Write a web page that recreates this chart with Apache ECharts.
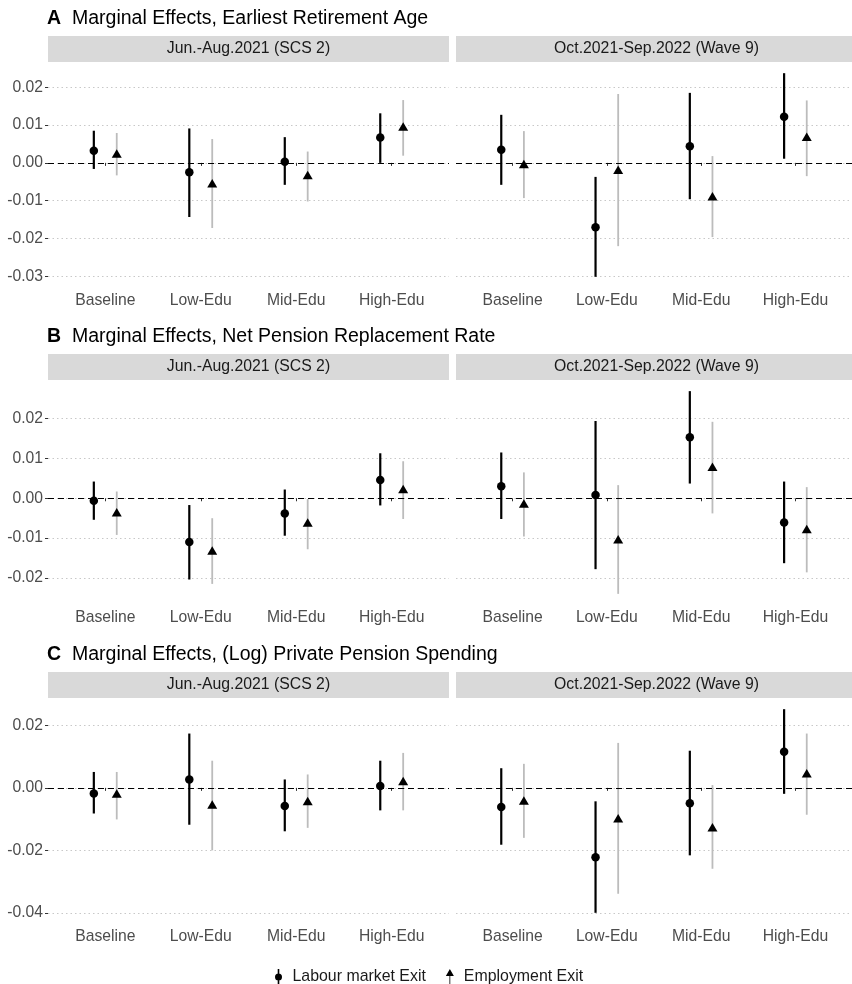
<!DOCTYPE html>
<html>
<head>
<meta charset="utf-8">
<script src="https://cdn.jsdelivr.net/npm/echarts@6/dist/echarts.min.js"></script>
<style>
  html, body { margin: 0; padding: 0; background: #fff; }
  #main { width: 852px; height: 984px; }
</style>
</head>
<body>
<div id="main"></div>
<script>
const categories = ['Baseline', 'Low-Edu', 'Mid-Edu', 'High-Edu']
const periods = ['Jun.-Aug.2021 (SCS 2)', 'Oct.2021-Sep.2022 (Wave 9)']
const panelLetters = ['A', 'B', 'C']
const panelTitles = [
  'Marginal Effects, Earliest Retirement Age',
  'Marginal Effects, Net Pension Replacement Rate',
  'Marginal Effects, (Log) Private Pension Spending'
]
const yTicks = [
  [-0.03, -0.02, -0.01, 0, 0.01, 0.02],
  [-0.02, -0.01, 0, 0.01, 0.02],
  [-0.04, -0.02, 0, 0.02]
]

// [estimate, lower, upper] per category
// A: earliest retirement age
const aScsLabour = [[0.0032, -0.0016, 0.0085], [-0.0025, -0.0143, 0.0091], [0.0003, -0.0058, 0.0068], [0.0067, 0.0000, 0.0131]]
const aScsEmploy = [[0.0025, -0.0033, 0.0079], [-0.0054, -0.0172, 0.0063], [-0.0032, -0.0102, 0.0030], [0.0096, 0.0019, 0.0166]]
const aW9Labour = [[0.0035, -0.0058, 0.0127], [-0.0170, -0.0301, -0.0037], [0.0044, -0.0096, 0.0185], [0.0122, 0.0011, 0.0237]]
const aW9Employ = [[-0.0003, -0.0093, 0.0084], [-0.0018, -0.0220, 0.0182], [-0.0088, -0.0196, 0.0018], [0.0069, -0.0035, 0.0165]]
// B: net pension replacement rate
const bScsLabour = [[-0.0006, -0.0054, 0.0042], [-0.0110, -0.0204, -0.0017], [-0.0038, -0.0094, 0.0022], [0.0046, -0.0018, 0.0113]]
const bScsEmploy = [[-0.0035, -0.0092, 0.0017], [-0.0131, -0.0215, -0.0050], [-0.0061, -0.0128, -0.0002], [0.0023, -0.0052, 0.0093]]
const bW9Labour = [[0.0030, -0.0052, 0.0115], [0.0008, -0.0178, 0.0194], [0.0153, 0.0037, 0.0269], [-0.0061, -0.0163, 0.0042]]
const bW9Employ = [[-0.0013, -0.0096, 0.0065], [-0.0103, -0.0240, 0.0033], [0.0079, -0.0038, 0.0192], [-0.0077, -0.0186, 0.0028]]
// C: (log) private pension spending
const cScsLabour = [[-0.0018, -0.0082, 0.0051], [0.0027, -0.0118, 0.0174], [-0.0058, -0.0139, 0.0027], [0.0006, -0.0072, 0.0087]]
const cScsEmploy = [[-0.0018, -0.0101, 0.0051], [-0.0053, -0.0200, 0.0087], [-0.0042, -0.0128, 0.0043], [0.0022, -0.0072, 0.0112]]
const cW9Labour = [[-0.0061, -0.0182, 0.0063], [-0.0222, -0.0400, -0.0043], [-0.0049, -0.0216, 0.0119], [0.0116, -0.0019, 0.0252]]
const cW9Employ = [[-0.0040, -0.0160, 0.0077], [-0.0097, -0.0339, 0.0144], [-0.0126, -0.0259, 0.0009], [0.0047, -0.0086, 0.0174]]

const panels = [
  [[aScsLabour, aScsEmploy], [aW9Labour, aW9Employ]],
  [[bScsLabour, bScsEmploy], [bW9Labour, bW9Employ]],
  [[cScsLabour, cScsEmploy], [cW9Labour, cW9Employ]]
]

const gridTops = [63, 381, 699]
const gridHeights = [224, 223, 224]
const gridLefts = [48, 456]
const gridWidth = 401
const dodge = 0.12
const font = 'Liberation Sans, Arial, sans-serif'
const labelColor = '#4d4d4d'
const greyBar = '#bcbcbc'

// y range like ggplot: data range + 5% each side, shared by both periods
function yRange(p) {
  let lo = Infinity
  let hi = -Infinity
  p.forEach(period => period.forEach(s => s.forEach(r => {
    lo = Math.min(lo, r[1])
    hi = Math.max(hi, r[2])
  })))
  const pad = (hi - lo) * 0.05
  return [lo - pad, hi + pad]
}

const labourIcon = 'path://M3.2,0 H4.8 V16 H3.2 Z M0.5,8 A3.5,3.5 0 1,1 7.5,8 A3.5,3.5 0 1,1 0.5,8 Z'
const employIcon = 'path://M0,7 L4,0 L8,7 Z M3.6,7 H4.4 V16 H3.6 Z'

const grid = []
const xAxis = []
const yAxis = []
const series = []
const title = []
const graphic = []

panels.forEach((p, pi) => {
  const range = yRange(p)
  title.push({
    left: 47,
    top: gridTops[pi] - 54,
    padding: 0,
    text: '{b|' + panelLetters[pi] + '}{t|' + panelTitles[pi] + '}',
    textStyle: {
      fontWeight: 'normal',
      rich: {
        b: { fontFamily: font, fontSize: 19.5, fontWeight: 'bold', color: '#000', width: 25 },
        t: { fontFamily: font, fontSize: 19.5, fontWeight: 'normal', color: '#000' }
      }
    }
  })
  p.forEach((period, ti) => {
    const gi = pi * 2 + ti
    grid.push({ left: gridLefts[ti], top: gridTops[pi], width: gridWidth, height: gridHeights[pi] })

    // facet strip
    graphic.push({
      type: 'rect',
      silent: true,
      shape: { x: gridLefts[ti], y: gridTops[pi] - 27, width: gridWidth, height: 26 },
      style: { fill: '#d9d9d9' }
    })
    graphic.push({
      type: 'text',
      silent: true,
      x: gridLefts[ti] + gridWidth / 2,
      y: gridTops[pi] - 14,
      style: {
        text: periods[ti],
        font: '15.8px ' + font,
        fill: '#1a1a1a',
        align: 'center',
        verticalAlign: 'middle'
      }
    })

    xAxis.push({
      type: 'value',
      gridIndex: gi,
      min: 0.4,
      max: 4.6,
      axisLine: { show: false },
      splitLine: { show: false },
      axisTick: { customValues: [1, 2, 3, 4], length: 3, lineStyle: { color: '#333' } },
      axisLabel: {
        customValues: [1, 2, 3, 4],
        formatter: v => categories[Math.round(v) - 1],
        color: labelColor,
        fontFamily: font,
        fontSize: 15.7,
        margin: 6
      }
    })
    yAxis.push({
      type: 'value',
      gridIndex: gi,
      min: range[0],
      max: range[1],
      axisLine: { show: false },
      axisTick: { show: ti === 0, customValues: yTicks[pi], length: 3, lineStyle: { color: '#333' } },
      axisLabel: {
        show: ti === 0,
        customValues: yTicks[pi],
        formatter: v => v.toFixed(2),
        color: labelColor,
        fontFamily: font,
        fontSize: 15.7,
        margin: 5
      },
      splitLine: { show: true, lineStyle: { color: '#c8c8c8', type: [1.5, 3], width: 1 } }
    })

    const labour = period[0]
    const employ = period[1]
    const bar = (rows, off) => rows.map((r, i) => [i + 1 + off, r[1], r[2]])
    const pt = (rows, off) => rows.map((r, i) => [i + 1 + off, r[0]])
    const whisker = (color, width) => (params, api) => {
      const a = api.coord([api.value(0), api.value(1)])
      const b = api.coord([api.value(0), api.value(2)])
      return {
        type: 'line',
        shape: { x1: a[0], y1: a[1], x2: b[0], y2: b[1] },
        style: { stroke: color, lineWidth: width }
      }
    }

    series.push({
      type: 'custom',
      name: 'Labour CI',
      xAxisIndex: gi,
      yAxisIndex: gi,
      z: 2,
      renderItem: whisker('#000', 2.2),
      encode: { x: 0, y: [1, 2] },
      data: bar(labour, -dodge),
      markLine: {
        silent: true,
        symbol: 'none',
        label: { show: false },
        lineStyle: { color: '#000', type: [6, 4], width: 1.2 },
        data: [{ yAxis: 0 }]
      }
    })
    series.push({
      type: 'custom',
      name: 'Employment CI',
      xAxisIndex: gi,
      yAxisIndex: gi,
      z: 2,
      renderItem: whisker(greyBar, 1.8),
      encode: { x: 0, y: [1, 2] },
      data: bar(employ, dodge)
    })
    series.push({
      type: 'scatter',
      name: 'Labour market Exit',
      xAxisIndex: gi,
      yAxisIndex: gi,
      z: 3,
      symbol: 'circle',
      symbolSize: 8.5,
      itemStyle: { color: '#000', opacity: 1 },
      data: pt(labour, -dodge)
    })
    series.push({
      type: 'scatter',
      name: 'Employment Exit',
      xAxisIndex: gi,
      yAxisIndex: gi,
      z: 3,
      symbol: 'triangle',
      symbolSize: [10, 8.5],
      itemStyle: { color: '#000', opacity: 1 },
      data: pt(employ, dodge)
    })
  })
})

const chart = echarts.init(document.getElementById('main'))
chart.setOption({
  animation: false,
  backgroundColor: '#fff',
  title: title,
  grid: grid,
  xAxis: xAxis,
  yAxis: yAxis,
  graphic: graphic,
  legend: {
    left: 270,
    top: 964,
    itemWidth: 8,
    itemHeight: 16,
    itemGap: 20,
    selectedMode: false,
    textStyle: { fontFamily: font, fontSize: 15.9, color: '#1a1a1a', padding: [0, 0, 0, 5] },
    data: [
      { name: 'Labour market Exit', icon: labourIcon },
      { name: 'Employment Exit', icon: employIcon }
    ]
  },
  series: series
})
</script>
</body>
</html>
